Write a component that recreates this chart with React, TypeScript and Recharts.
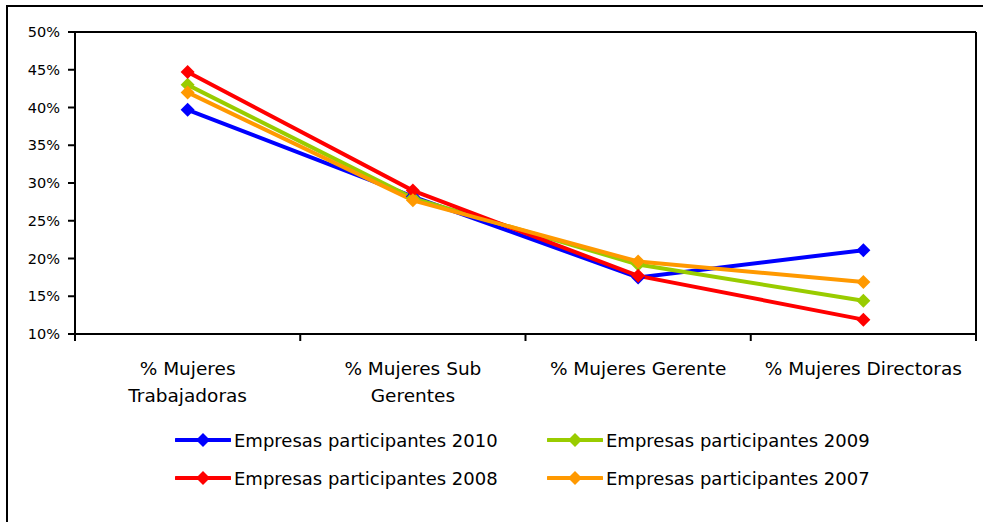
import { LineChart, Line, XAxis, YAxis, ReferenceLine } from "recharts";

const categories = [
  "% Mujeres\nTrabajadoras",
  "% Mujeres Sub\nGerentes",
  "% Mujeres Gerente",
  "% Mujeres Directoras",
];

const empresas2010 = [39.7, 28.2, 17.5, 21.1];
const empresas2009 = [43.0, 28.0, 19.2, 14.4];
const empresas2008 = [44.7, 29.0, 17.7, 11.9];
const empresas2007 = [42.0, 27.7, 19.6, 16.9];

const yTicks = [10, 15, 20, 25, 30, 35, 40, 45, 50];
const boundaryTicks = [0, 1, 2, 3, 4];

const series = [
  { key: "s2010", name: "Empresas participantes 2010", color: "#0000FF", values: empresas2010 },
  { key: "s2009", name: "Empresas participantes 2009", color: "#99CC00", values: empresas2009 },
  { key: "s2008", name: "Empresas participantes 2008", color: "#FF0000", values: empresas2008 },
  { key: "s2007", name: "Empresas participantes 2007", color: "#FF9900", values: empresas2007 },
];

const data = categories.map((name, i) => {
  const row: Record<string, number | string> = { name, pos: i + 0.5 };
  series.forEach((s) => {
    row[s.key] = s.values[i];
  });
  return row;
});

const FONT = "'DejaVu Sans', sans-serif";

function Diamond(props: any) {
  const { cx, cy, fill, r = 7 } = props;
  if (cx == null || cy == null) return null;
  return (
    <polygon
      points={`${cx},${cy - r} ${cx + r},${cy} ${cx},${cy + r} ${cx - r},${cy}`}
      fill={fill}
    />
  );
}

function EmptyTick() {
  return <g />;
}

function CategoryTick(props: any) {
  const { x, y, payload } = props;
  const lines = String(payload.value).split("\n");
  return (
    <text x={x} y={y} textAnchor="middle" fontSize={18.5} fontFamily={FONT} fill="#000">
      {lines.map((ln, i) => (
        <tspan key={i} x={x} dy={i === 0 ? 32 : 27}>
          {ln}
        </tspan>
      ))}
    </text>
  );
}

function LegendBox() {
  const cols = [175, 547];
  const rows = [440, 478];
  return (
    <>
      {series.map((s, i) => (
        <div
          key={s.key}
          style={{
            position: "absolute",
            left: cols[i % 2],
            top: rows[Math.floor(i / 2)] - 12,
            height: 24,
            display: "flex",
            alignItems: "center",
            fontFamily: FONT,
            fontSize: 18,
            color: "#000",
            whiteSpace: "nowrap",
          }}
        >
          <svg width={56} height={16} style={{ marginRight: 3 }}>
            <line x1={1} y1={8} x2={55} y2={8} stroke={s.color} strokeWidth={4} strokeLinecap="round" />
            <Diamond cx={28} cy={8} r={7} fill={s.color} />
          </svg>
          <span>{s.name}</span>
        </div>
      ))}
    </>
  );
}

export default function App() {
  return (
    <div style={{ position: "absolute", left: 0, top: 0, width: 983, height: 522, background: "#fff", overflow: "hidden" }}>
      <div
        style={{
          position: "absolute",
          left: 6,
          top: 5,
          width: 1000,
          height: 600,
          border: "2px solid #000",
        }}
      />
      <div style={{ position: "absolute", left: 0, top: 0 }}>
        <LineChart
          width={983}
          height={522}
          data={data}
          margin={{ top: 32, right: 7, left: 15, bottom: 101 }}
        >
          <XAxis
            xAxisId="a_ticks"
            dataKey="pos"
            type="number"
            domain={[0, 4]}
            ticks={boundaryTicks}
            interval={0}
            tick={<EmptyTick />}
            tickSize={7}
            height={7}
            axisLine={{ stroke: "#000", strokeWidth: 2 }}
            tickLine={{ stroke: "#000", strokeWidth: 2 }}
          />
          <XAxis
            xAxisId="b_labels"
            dataKey="name"
            type="category"
            scale="band"
            axisLine={false}
            tickLine={false}
            tickSize={0}
            height={80}
            interval={0}
            tick={<CategoryTick />}
          />
          <YAxis
            yAxisId="left"
            domain={[10, 50]}
            ticks={yTicks}
            width={60}
            tickSize={7}
            tickMargin={8}
            tickFormatter={(v) => `${v}%`}
            tick={{ fontSize: 14.5, fontFamily: FONT, fill: "#000" }}
            axisLine={{ stroke: "#000", strokeWidth: 2 }}
            tickLine={{ stroke: "#000", strokeWidth: 2 }}
          />
          <ReferenceLine xAxisId="a_ticks" yAxisId="left" y={50} stroke="#000" strokeWidth={2} />
          <ReferenceLine xAxisId="a_ticks" yAxisId="left" x={4} stroke="#000" strokeWidth={2} />
          {series.map((s) => (
            <Line
              key={s.key}
              xAxisId="a_ticks"
              yAxisId="left"
              dataKey={s.key}
              name={s.name}
              stroke={s.color}
              strokeWidth={4}
              type="linear"
              dot={(p: any) => <Diamond key={`${s.key}-${p.index}`} cx={p.cx} cy={p.cy} r={7} fill={s.color} />}
              activeDot={false}
              isAnimationActive={false}
            />
          ))}
        </LineChart>
      </div>
      <LegendBox />
    </div>
  );
}
